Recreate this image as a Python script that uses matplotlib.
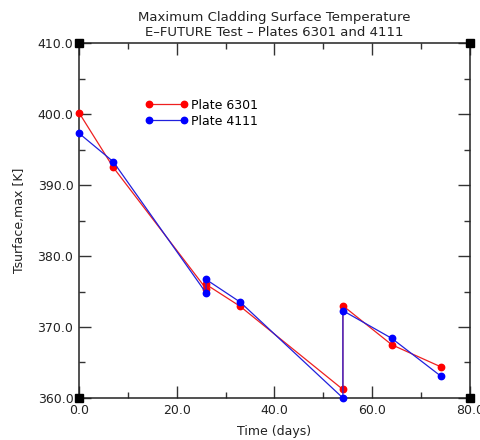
import matplotlib
matplotlib.use("Agg")
import matplotlib.pyplot as plt
from matplotlib.ticker import MultipleLocator, FormatStrFormatter

# Data
t_6301 = [0, 7, 26, 26, 33, 54, 54, 64, 74]
T_6301 = [400.2, 392.5, 375.4, 376.0, 372.9, 361.2, 373.0, 367.5, 364.4]
t_4111 = [0, 7, 26, 26, 33, 54, 54, 64, 74]
T_4111 = [397.3, 393.3, 374.8, 376.7, 373.5, 360.0, 372.3, 368.4, 363.1]
labels = ["Plate 6301", "Plate 4111"]
title = "Maximum Cladding Surface Temperature\nE\u2013FUTURE Test \u2013 Plates 6301 and 4111"

plt.rcParams['font.family'] = ['DejaVu Sans']
fig = plt.figure(figsize=(4.8, 4.4), dpi=100)
ax = fig.add_axes([0.1646, 0.0955, 0.8145, 0.8065])

ax.plot(t_6301, T_6301, color='#ee2020', lw=0.9, marker='o', ms=4.6,
        mfc='#ff0000', mec='#ff0000', label=labels[0], clip_on=False, zorder=3)
ax.plot(t_4111, T_4111, color='#2020dd', lw=0.9, marker='o', ms=4.6,
        mfc='#0000ff', mec='#0000ff', label=labels[1], clip_on=False, zorder=4)

ax.set_xlim(0, 80)
ax.set_ylim(360, 410)
ax.xaxis.set_major_locator(MultipleLocator(20))
ax.xaxis.set_minor_locator(MultipleLocator(10))
ax.yaxis.set_major_locator(MultipleLocator(10))
ax.yaxis.set_minor_locator(MultipleLocator(5))
ax.xaxis.set_major_formatter(FormatStrFormatter('%.1f'))
ax.yaxis.set_major_formatter(FormatStrFormatter('%.1f'))
ax.tick_params(which='both', direction='in', top=True, right=True, labelsize=9,
               colors='#333333', labelcolor='#222222')
ax.tick_params(which='major', length=8.6, width=1, pad=4)
ax.tick_params(which='minor', length=4.3, width=1)
for s in ax.spines.values():
    s.set_linewidth(1.1)
    s.set_color('#222222')

# corner squares
for cx in (0, 80):
    for cy in (360, 410):
        ax.plot([cx], [cy], marker='s', ms=6, color='black', clip_on=False, zorder=5)

ax.set_xlabel("Time (days)", fontsize=9, color='#222222', labelpad=6)
ax.set_ylabel("Tsurface,max [K]", fontsize=9, color='#222222', labelpad=8)
ax.set_title(title, fontsize=9.5, color='#222222', pad=5, linespacing=1.2)

ax.legend(loc='upper left', bbox_to_anchor=(0.14, 0.875), frameon=False, fontsize=9,
          handlelength=3.4, handletextpad=0.3, labelspacing=0.25, numpoints=2)

fig.savefig("out.png", dpi=100)
